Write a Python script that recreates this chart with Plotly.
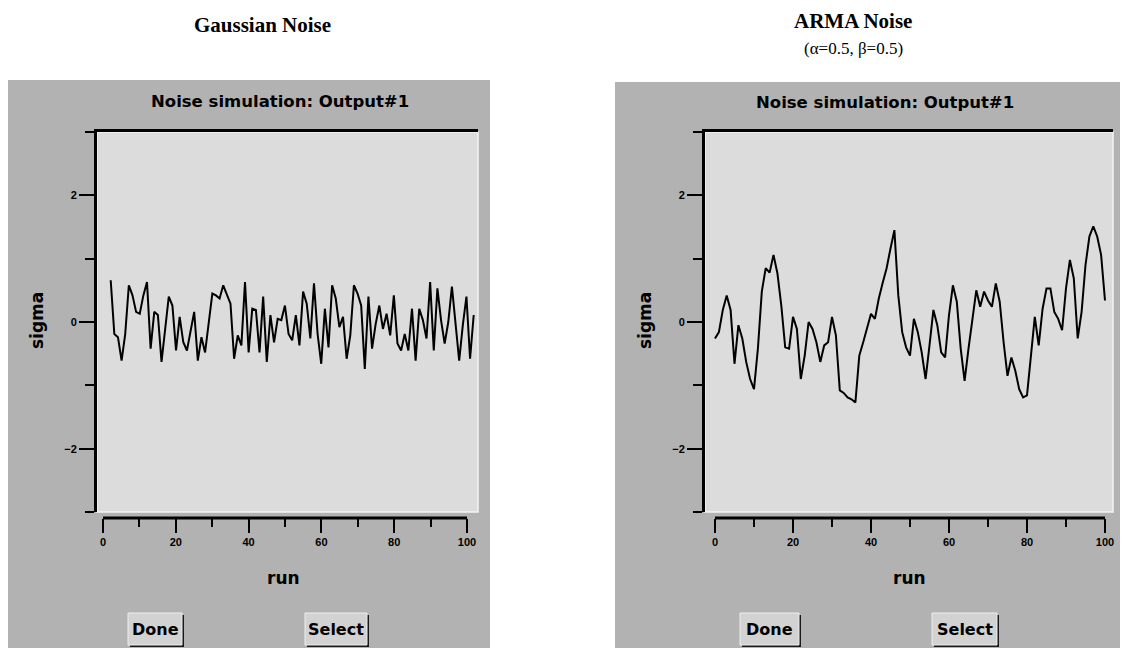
import plotly.graph_objects as go

W, H = 1122, 652

# ---------------- data ----------------
runs = list(range(0, 101))
gaussian_sigma = [
    0.66, -0.19, -0.24, -0.61, -0.19, 0.58, 0.42, 0.16, 0.13, 0.42,
    0.63, -0.42, 0.16, 0.11, -0.63, -0.11, 0.40, 0.26, -0.45, 0.08,
    -0.32, -0.45, -0.11, 0.16, -0.61, -0.24, -0.48, 0.00, 0.45, 0.42,
    0.37, 0.58, 0.42, 0.29, -0.58, -0.21, -0.37, 0.63, -0.48, 0.21,
    0.19, -0.48, 0.40, -0.63, 0.11, -0.32, 0.05, 0.03, 0.26, -0.19,
    -0.29, 0.11, -0.37,
    0.48, 0.29, -0.26, 0.61, -0.19, -0.66, 0.21, -0.40, 0.58, 0.37,
    -0.08, 0.08, -0.58, -0.21, 0.58, 0.45, 0.26, -0.74, 0.40, -0.42,
    -0.03, 0.26, -0.11, 0.13, -0.21, 0.42, -0.34, -0.45, -0.19, -0.45,
    0.21, -0.61, 0.21, 0.03, -0.26, 0.63, -0.45, 0.53, 0.03, -0.34,
    0.00, 0.56, -0.05, -0.61, -0.05, 0.40, -0.58, 0.11,
]
arma_sigma = [
    -0.26, -0.16, 0.19, 0.42, 0.19, -0.66, -0.05, -0.26, -0.63, -0.90,
    -1.06, -0.42, 0.48, 0.85, 0.78, 1.06, 0.77, 0.26, -0.40, -0.42,
    0.08, -0.11, -0.90, -0.53, 0.00, -0.11, -0.32, -0.63, -0.37, -0.32,
    0.08, -0.21, -1.08, -1.12, -1.19, -1.22, -1.27, -0.53, -0.32, -0.11,
    0.13, 0.05, 0.37, 0.62, 0.85, 1.16, 1.45,
    0.42, -0.16, -0.40, -0.53, 0.05, -0.16, -0.48, -0.90, -0.37, 0.19,
    -0.05, -0.48, -0.56, 0.11, 0.58, 0.32, -0.42, -0.93, -0.42, 0.05,
    0.50, 0.24, 0.48, 0.34, 0.24, 0.61, 0.32, -0.32, -0.85, -0.56,
    -0.77, -1.06, -1.19, -1.16, -0.53, 0.08, -0.37, 0.21, 0.53, 0.53,
    0.16, 0.05, -0.13, 0.53, 0.98, 0.69, -0.26, 0.16, 0.90, 1.35,
    1.51, 1.35, 1.06, 0.34,
]
x_tick_step = 20
y_tick_step = 2
y_range = [-3, 3]

# ---------------- helpers ----------------
def px(x):
    return x / W

def py(y):
    return 1 - y / H

WINDOW_GREY = "#b2b2b2"
PLOT_GREY = "#dcdcdc"
TICKFONT = dict(family="Liberation Sans", size=11, color="black", weight="bold")
GUIFONT = "DejaVu Sans"

fig = go.Figure()

fig.add_trace(go.Scatter(x=runs, y=gaussian_sigma, xaxis="x", yaxis="y",
                         mode="lines", line=dict(color="black", width=2),
                         hoverinfo="skip", showlegend=False))
fig.add_trace(go.Scatter(x=runs, y=arma_sigma, xaxis="x2", yaxis="y2",
                         mode="lines", line=dict(color="black", width=2),
                         hoverinfo="skip", showlegend=False))
# carriers for the separate run axes
fig.add_trace(go.Scatter(x=runs, y=gaussian_sigma, xaxis="x3", yaxis="y",
                         mode="lines", opacity=0, line=dict(width=0),
                         hoverinfo="skip", showlegend=False))
fig.add_trace(go.Scatter(x=runs, y=arma_sigma, xaxis="x4", yaxis="y2",
                         mode="lines", opacity=0, line=dict(width=0),
                         hoverinfo="skip", showlegend=False))

ydom = [py(512), py(132)]
xaxis_pos = py(518)

def data_xaxis(dom, rng, anchor):
    return dict(domain=dom, range=rng, anchor=anchor, side="top",
                showline=True, linecolor="black", linewidth=3,
                ticks="", showticklabels=False, showgrid=False, zeroline=False,
                fixedrange=True)

def run_xaxis(over, rng):
    return dict(overlaying=over, anchor="free", position=xaxis_pos, side="bottom",
                range=rng, tick0=0, dtick=x_tick_step, ticks="outside",
                ticklen=14, tickwidth=2, tickcolor="black",
                minor=dict(dtick=x_tick_step / 2, ticks="outside", ticklen=8,
                           tickwidth=2, tickcolor="black"),
                showline=False, showgrid=False, zeroline=False,
                tickfont=TICKFONT, fixedrange=True)

def sigma_yaxis(anchor):
    return dict(domain=ydom, range=y_range, anchor=anchor,
                showline=True, linecolor="black", linewidth=3,
                tick0=0, dtick=y_tick_step, ticks="outside", ticklen=15,
                tickwidth=2, tickcolor="black",
                minor=dict(dtick=y_tick_step / 2, ticks="outside", ticklen=9,
                           tickwidth=2, tickcolor="black"),
                showgrid=False, zeroline=False, tickfont=TICKFONT,
                fixedrange=True)

# left panel: plot 0 -> 110.7px, 100 -> 473.7px ; axis 0 -> 103px, 100 -> 467px
L0, L1 = 97, 478
fig.update_layout(
    xaxis=data_xaxis([px(L0), px(L1)],
                     [-(110.7 - L0) / 3.63, 100 + (L1 - 473.7) / 3.63], "y"),
    xaxis3=run_xaxis("x", [-(103 - L0) / 3.64, 100 + (L1 - 467) / 3.64]),
    yaxis=sigma_yaxis("x"),
)
# right panel: 0 -> 715px, 100 -> 1105px
R0, R1 = 705, 1113
rrange = [-(715 - R0) / 3.9, 100 + (R1 - 1105) / 3.9]
fig.update_layout(
    xaxis2=data_xaxis([px(R0), px(R1)], rrange, "y2"),
    xaxis4=run_xaxis("x2", rrange),
    yaxis2=sigma_yaxis("x2"),
)

shapes = []
# window backgrounds
shapes.append(dict(type="rect", xref="paper", yref="paper", layer="below",
                   x0=px(8), x1=px(490), y0=py(648), y1=py(80),
                   fillcolor=WINDOW_GREY, line=dict(width=0)))
shapes.append(dict(type="rect", xref="paper", yref="paper", layer="below",
                   x0=px(615), x1=px(1120), y0=py(648), y1=py(82),
                   fillcolor=WINDOW_GREY, line=dict(width=0)))
# plot areas
for xr, yr in (("x domain", "y domain"), ("x2 domain", "y2 domain")):
    shapes.append(dict(type="rect", xref=xr, yref=yr, layer="below",
                       x0=0, x1=1, y0=0, y1=1, fillcolor=PLOT_GREY,
                       line=dict(color="#f4f4f4", width=1.5)))
# run axis lines (0..100)
for xr in ("x3", "x4"):
    shapes.append(dict(type="line", xref=xr, yref="paper", x0=runs[0], x1=runs[-1],
                       y0=xaxis_pos, y1=xaxis_pos, line=dict(color="black", width=3)))

# buttons
buttons = [("Done", 128, 182), ("Select", 305, 367),
           ("Done", 740, 799), ("Select", 932, 997)]
annotations = []
for label, bx0, bx1 in buttons:
    by0, by1 = 613, 645
    shapes.append(dict(type="rect", xref="paper", yref="paper",
                       x0=px(bx0 + 2), x1=px(bx1 + 2), y0=py(by1 + 2), y1=py(by0 + 2),
                       fillcolor="#1a1a1a", line=dict(width=0)))
    shapes.append(dict(type="rect", xref="paper", yref="paper",
                       x0=px(bx0), x1=px(bx1), y0=py(by1), y1=py(by0),
                       fillcolor="#d2d2d2", line=dict(color="#eeeeee", width=1)))
    annotations.append(dict(x=px((bx0 + bx1) / 2), y=py((by0 + by1) / 2),
                            xref="paper", yref="paper", text=f"<b>{label}</b>",
                            showarrow=False, xanchor="center", yanchor="middle",
                            font=dict(family=GUIFONT, size=16, color="black")))

def note(text, x, y, size, family, angle=0):
    annotations.append(dict(x=px(x), y=py(y), xref="paper", yref="paper",
                            text=text, showarrow=False, xanchor="center",
                            yanchor="middle", textangle=angle,
                            font=dict(family=family, size=size, color="black")))

note("<b>Gaussian Noise</b>", 262, 25, 21, "Liberation Serif")
note("<b>ARMA Noise</b>", 853, 21, 21, "Liberation Serif")
note("(α=0.5, β=0.5)", 853, 48, 17, "Liberation Serif")
note("<b>Noise simulation: Output#1</b>", 280, 102, 16.5, GUIFONT)
note("<b>Noise simulation: Output#1</b>", 885, 103, 16.5, GUIFONT)
note("<b>sigma</b>", 37, 321, 17, GUIFONT, -90)
note("<b>sigma</b>", 645, 321, 17, GUIFONT, -90)
note("<b>run</b>", 283, 578, 17, GUIFONT)
note("<b>run</b>", 909, 578, 17, GUIFONT)

fig.update_layout(
    width=W, height=H, margin=dict(l=0, r=0, t=0, b=0),
    paper_bgcolor="white", plot_bgcolor="rgba(0,0,0,0)",
    shapes=shapes, annotations=annotations, showlegend=False,
)

fig.write_html("out.html", config={"displayModeBar": False})
